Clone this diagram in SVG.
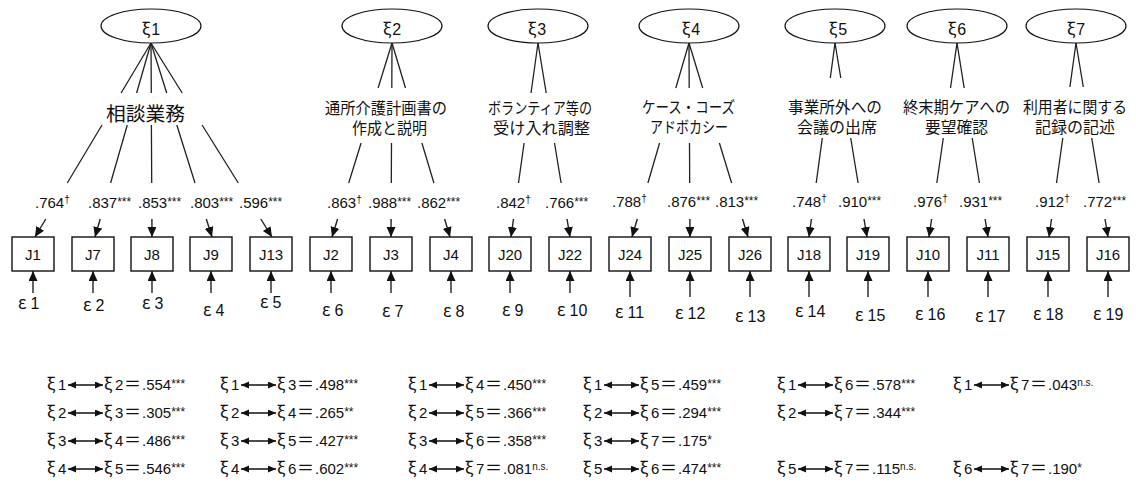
<svg xmlns="http://www.w3.org/2000/svg" width="1136" height="488" viewBox="0 0 1136 488">
<defs>
<marker id="ah" markerUnits="userSpaceOnUse" markerWidth="11" markerHeight="10" refX="10" refY="4.5" orient="auto"><path d="M0,0 L10,4.5 L0,9 z" fill="#111"/></marker>
<marker id="ah2" markerUnits="userSpaceOnUse" markerWidth="9" markerHeight="8" refX="8" refY="3.5" orient="auto-start-reverse"><path d="M0,0 L8,3.5 L0,7 z" fill="#111"/></marker>
<style>
.ln{stroke:#222;stroke-width:1.3;fill:none}
.ar{stroke:#222;stroke-width:1.4;fill:none;marker-end:url(#ah)}
.box{fill:#fff;stroke:#111;stroke-width:1.4}
.ell{fill:#fff;stroke:#111;stroke-width:1.2}
.jp{font-family:"Noto Sans CJK JP",sans-serif;font-size:15.5px;fill:#111}
.lat{font-family:"Liberation Sans",sans-serif;font-size:16px;fill:#111;text-anchor:middle}
.coef{font-family:"Liberation Sans",sans-serif;font-size:15px;fill:#111}
.sup{font-size:12px}
.sm{font-size:10px}
.bt{font-family:"Liberation Sans",sans-serif;font-size:15px;fill:#111;text-anchor:middle}
.eps{font-family:"Liberation Sans",sans-serif;font-size:16px;fill:#111}
.tb{font-family:"Liberation Sans",sans-serif;font-size:15px;fill:#111}
.g{font-family:"Noto Sans CJK JP",sans-serif;font-size:17px}
.dar{stroke:#111;stroke-width:1.4;fill:none;marker-start:url(#ah2);marker-end:url(#ah2)}
</style>
</defs>
<rect width="1136" height="488" fill="#fff"/>

<g id="connectors">
<path class="ln" d="M151,43 L121.1,93 M102,125 L67.3,183"/><path class="ar" d="M45.8,219 L35,237"/>
<path class="ln" d="M151,43 L136.6,93 M127.3,125 L110.6,183"/><path class="ar" d="M100.2,219 L95,237"/>
<path class="ln" d="M151,43 L151.3,93 M151.4,125 L151.7,183"/><path class="ar" d="M151.9,219 L152,237"/>
<path class="ln" d="M151,43 L166.7,93 M176.8,125 L195,183"/><path class="ar" d="M206.3,219 L212,237"/>
<path class="ln" d="M151,43 L182.2,93 M202.1,125 L238.3,183"/><path class="ar" d="M260.8,219 L272,237"/>
<path class="ln" d="M392,43 L378.1,88 M361.1,143 L348.7,183"/><path class="ar" d="M337.6,219 L332,237"/>
<path class="ln" d="M392,43 L391.8,88 M391.5,143 L391.3,183"/><path class="ar" d="M391.1,219 L391,237"/>
<path class="ln" d="M392,43 L405.5,88 M421.9,143 L433.9,183"/><path class="ar" d="M444.6,219 L450,237"/>
<path class="ln" d="M538,43 L531,93 M524.1,143 L518.5,183"/><path class="ar" d="M513.5,219 L511,237"/>
<path class="ln" d="M538,43 L546.2,93 M554.5,143 L561.1,183"/><path class="ar" d="M567,219 L570,237"/>
<path class="ln" d="M689,43 L675.8,88 M659.6,143 L647.9,183"/><path class="ar" d="M637.3,219 L632,237"/>
<path class="ln" d="M689,43 L689.2,88 M689.5,143 L689.7,183"/><path class="ar" d="M689.9,219 L690,237"/>
<path class="ln" d="M689,43 L702.7,88 M719.4,143 L731.6,183"/><path class="ar" d="M742.5,219 L748,237"/>
<path class="ln" d="M835,43 L830.3,78 M822.3,138 L816.2,183"/><path class="ar" d="M811.4,219 L809,237"/>
<path class="ln" d="M835,43 L840.8,78 M850.7,138 L858.1,183"/><path class="ar" d="M864,219 L867,237"/>
<path class="ln" d="M957,43 L950.5,88 M943.3,138 L936.8,183"/><path class="ar" d="M931.6,219 L929,237"/>
<path class="ln" d="M957,43 L964.2,88 M972.2,138 L979.4,183"/><path class="ar" d="M985.1,219 L988,237"/>
<path class="ln" d="M1076,43 L1069.9,87 M1062.8,138 L1056.5,183"/><path class="ar" d="M1051.5,219 L1049,237"/>
<path class="ln" d="M1076,43 L1083.3,87 M1091.7,138 L1099.1,183"/><path class="ar" d="M1105,219 L1108,237"/>
<path class="ar" d="M33,293 L33,271"/>
<path class="ar" d="M93,293 L93,271"/>
<path class="ar" d="M152,293 L152,271"/>
<path class="ar" d="M211,293 L211,271"/>
<path class="ar" d="M271,293 L271,271"/>
<path class="ar" d="M331,293 L331,271"/>
<path class="ar" d="M391,293 L391,271"/>
<path class="ar" d="M451,293 L451,271"/>
<path class="ar" d="M510,293 L510,271"/>
<path class="ar" d="M570,293 L570,271"/>
<path class="ar" d="M630,297 L630,271"/>
<path class="ar" d="M690,297 L690,271"/>
<path class="ar" d="M750,297 L750,271"/>
<path class="ar" d="M809,297 L809,271"/>
<path class="ar" d="M868,297 L868,271"/>
<path class="ar" d="M928,297 L928,271"/>
<path class="ar" d="M988,297 L988,271"/>
<path class="ar" d="M1048,297 L1048,271"/>
<path class="ar" d="M1108,297 L1108,271"/>
</g>

<g id="xi1"><ellipse class="ell" cx="151" cy="26" rx="50" ry="17"/><text class="lat" x="151" y="35"><tspan class="g">ξ</tspan><tspan dx="1">1</tspan></text><text class="jp" x="106" y="121" style="font-size:19.5px" textLength="79" lengthAdjust="spacingAndGlyphs">相談業務</text></g>
<g id="xi2"><ellipse class="ell" cx="392" cy="26" rx="50" ry="17"/><text class="lat" x="392" y="35"><tspan class="g">ξ</tspan><tspan dx="1">2</tspan></text><text class="jp" x="325" y="114" textLength="122" lengthAdjust="spacingAndGlyphs">通所介護計画書の</text><text class="jp" x="352" y="134" textLength="75" lengthAdjust="spacingAndGlyphs">作成と説明</text></g>
<g id="xi3"><ellipse class="ell" cx="538" cy="26" rx="50" ry="17"/><text class="lat" x="537" y="35"><tspan class="g">ξ</tspan><tspan dx="1">3</tspan></text><text class="jp" x="488" y="114" textLength="104" lengthAdjust="spacingAndGlyphs">ボランティア等の</text><text class="jp" x="493" y="134" textLength="97" lengthAdjust="spacingAndGlyphs">受け入れ調整</text></g>
<g id="xi4"><ellipse class="ell" cx="689" cy="26" rx="50" ry="17"/><text class="lat" x="691" y="35"><tspan class="g">ξ</tspan><tspan dx="1">4</tspan></text><text class="jp" x="642" y="113" textLength="93" lengthAdjust="spacingAndGlyphs">ケース・コーズ</text><text class="jp" x="650" y="133" textLength="78" lengthAdjust="spacingAndGlyphs">アドボカシー</text></g>
<g id="xi5"><ellipse class="ell" cx="835" cy="26" rx="50" ry="17"/><text class="lat" x="838" y="35"><tspan class="g">ξ</tspan><tspan dx="1">5</tspan></text><text class="jp" x="788" y="113" textLength="94" lengthAdjust="spacingAndGlyphs">事業所外への</text><text class="jp" x="797" y="133" textLength="80" lengthAdjust="spacingAndGlyphs">会議の出席</text></g>
<g id="xi6"><ellipse class="ell" cx="957" cy="26" rx="50" ry="17"/><text class="lat" x="957" y="35"><tspan class="g">ξ</tspan><tspan dx="1">6</tspan></text><text class="jp" x="903" y="113" textLength="107" lengthAdjust="spacingAndGlyphs">終末期ケアへの</text><text class="jp" x="925" y="133" textLength="63" lengthAdjust="spacingAndGlyphs">要望確認</text></g>
<g id="xi7"><ellipse class="ell" cx="1076" cy="26" rx="50" ry="17"/><text class="lat" x="1076" y="35"><tspan class="g">ξ</tspan><tspan dx="1">7</tspan></text><text class="jp" x="1023" y="113" textLength="104" lengthAdjust="spacingAndGlyphs">利用者に関する</text><text class="jp" x="1035" y="133" textLength="80" lengthAdjust="spacingAndGlyphs">記録の記述</text></g>

<g id="J1"><rect class="box" x="12" y="237" width="42" height="34"/><text class="bt" x="33" y="260">J1</text></g>
<g id="J7"><rect class="box" x="72" y="237" width="42" height="34"/><text class="bt" x="93" y="260">J7</text></g>
<g id="J8"><rect class="box" x="131" y="237" width="42" height="34"/><text class="bt" x="152" y="260">J8</text></g>
<g id="J9"><rect class="box" x="190" y="237" width="42" height="34"/><text class="bt" x="211" y="260">J9</text></g>
<g id="J13"><rect class="box" x="250" y="237" width="42" height="34"/><text class="bt" x="271" y="260">J13</text></g>
<g id="J2"><rect class="box" x="310" y="237" width="42" height="34"/><text class="bt" x="331" y="260">J2</text></g>
<g id="J3"><rect class="box" x="370" y="237" width="42" height="34"/><text class="bt" x="391" y="260">J3</text></g>
<g id="J4"><rect class="box" x="430" y="237" width="42" height="34"/><text class="bt" x="451" y="260">J4</text></g>
<g id="J20"><rect class="box" x="489" y="237" width="42" height="34"/><text class="bt" x="510" y="260">J20</text></g>
<g id="J22"><rect class="box" x="549" y="237" width="42" height="34"/><text class="bt" x="570" y="260">J22</text></g>
<g id="J24"><rect class="box" x="609" y="237" width="42" height="34"/><text class="bt" x="630" y="260">J24</text></g>
<g id="J25"><rect class="box" x="669" y="237" width="42" height="34"/><text class="bt" x="690" y="260">J25</text></g>
<g id="J26"><rect class="box" x="729" y="237" width="42" height="34"/><text class="bt" x="750" y="260">J26</text></g>
<g id="J18"><rect class="box" x="788" y="237" width="42" height="34"/><text class="bt" x="809" y="260">J18</text></g>
<g id="J19"><rect class="box" x="847" y="237" width="42" height="34"/><text class="bt" x="868" y="260">J19</text></g>
<g id="J10"><rect class="box" x="907" y="237" width="42" height="34"/><text class="bt" x="928" y="260">J10</text></g>
<g id="J11"><rect class="box" x="967" y="237" width="42" height="34"/><text class="bt" x="988" y="260">J11</text></g>
<g id="J15"><rect class="box" x="1027" y="237" width="42" height="34"/><text class="bt" x="1048" y="260">J15</text></g>
<g id="J16"><rect class="box" x="1087" y="237" width="42" height="34"/><text class="bt" x="1108" y="260">J16</text></g>

<g id="loadings">
<text class="coef" x="35" y="208">.764<tspan class="sm" dy="-5">†</tspan></text>
<text class="coef" x="88" y="208">.837<tspan class="sup" dy="-2">***</tspan></text>
<text class="coef" x="138" y="208">.853<tspan class="sup" dy="-2">***</tspan></text>
<text class="coef" x="190" y="208">.803<tspan class="sup" dy="-2">***</tspan></text>
<text class="coef" x="239" y="208">.596<tspan class="sup" dy="-2">***</tspan></text>
<text class="coef" x="327" y="208">.863<tspan class="sm" dy="-5">†</tspan></text>
<text class="coef" x="368" y="208">.988<tspan class="sup" dy="-2">***</tspan></text>
<text class="coef" x="417" y="208">.862<tspan class="sup" dy="-2">***</tspan></text>
<text class="coef" x="496" y="208">.842<tspan class="sm" dy="-5">†</tspan></text>
<text class="coef" x="545" y="208">.766<tspan class="sup" dy="-2">***</tspan></text>
<text class="coef" x="612" y="207">.788<tspan class="sm" dy="-5">†</tspan></text>
<text class="coef" x="667" y="207">.876<tspan class="sup" dy="-2">***</tspan></text>
<text class="coef" x="715" y="207">.813<tspan class="sup" dy="-2">***</tspan></text>
<text class="coef" x="792" y="207">.748<tspan class="sm" dy="-5">†</tspan></text>
<text class="coef" x="838" y="207">.910<tspan class="sup" dy="-2">***</tspan></text>
<text class="coef" x="913" y="207">.976<tspan class="sm" dy="-5">†</tspan></text>
<text class="coef" x="959" y="207">.931<tspan class="sup" dy="-2">***</tspan></text>
<text class="coef" x="1035" y="207">.912<tspan class="sm" dy="-5">†</tspan></text>
<text class="coef" x="1083" y="207">.772<tspan class="sup" dy="-2">***</tspan></text>
</g>

<g id="errors">
<text class="eps" x="18" y="309"><tspan class="g">ε</tspan><tspan dx="4">1</tspan></text>
<text class="eps" x="83" y="311"><tspan class="g">ε</tspan><tspan dx="4">2</tspan></text>
<text class="eps" x="142" y="309"><tspan class="g">ε</tspan><tspan dx="4">3</tspan></text>
<text class="eps" x="203" y="316"><tspan class="g">ε</tspan><tspan dx="4">4</tspan></text>
<text class="eps" x="260" y="308"><tspan class="g">ε</tspan><tspan dx="4">5</tspan></text>
<text class="eps" x="322" y="316"><tspan class="g">ε</tspan><tspan dx="4">6</tspan></text>
<text class="eps" x="382" y="317"><tspan class="g">ε</tspan><tspan dx="4">7</tspan></text>
<text class="eps" x="443" y="317"><tspan class="g">ε</tspan><tspan dx="4">8</tspan></text>
<text class="eps" x="502" y="316"><tspan class="g">ε</tspan><tspan dx="4">9</tspan></text>
<text class="eps" x="557" y="316"><tspan class="g">ε</tspan><tspan dx="4">10</tspan></text>
<text class="eps" x="615" y="318"><tspan class="g">ε</tspan><tspan dx="4">11</tspan></text>
<text class="eps" x="675" y="319"><tspan class="g">ε</tspan><tspan dx="4">12</tspan></text>
<text class="eps" x="735" y="322"><tspan class="g">ε</tspan><tspan dx="4">13</tspan></text>
<text class="eps" x="795" y="317"><tspan class="g">ε</tspan><tspan dx="4">14</tspan></text>
<text class="eps" x="855" y="321"><tspan class="g">ε</tspan><tspan dx="4">15</tspan></text>
<text class="eps" x="915" y="320"><tspan class="g">ε</tspan><tspan dx="4">16</tspan></text>
<text class="eps" x="975" y="322"><tspan class="g">ε</tspan><tspan dx="4">17</tspan></text>
<text class="eps" x="1033" y="320"><tspan class="g">ε</tspan><tspan dx="4">18</tspan></text>
<text class="eps" x="1093" y="320"><tspan class="g">ε</tspan><tspan dx="4">19</tspan></text>
</g>

<g id="correlations">
<g transform="translate(47,390)"><text class="tb"><tspan class="g" x="0">ξ</tspan><tspan x="11">1</tspan><tspan class="g" x="57">ξ</tspan><tspan x="68">2</tspan><tspan class="g" x="77">＝</tspan><tspan x="95">.554</tspan><tspan class="sup" dy="-2">***</tspan></text><path class="dar" d="M21,-5 L56,-5"/></g>
<g transform="translate(220,390)"><text class="tb"><tspan class="g" x="0">ξ</tspan><tspan x="11">1</tspan><tspan class="g" x="57">ξ</tspan><tspan x="68">3</tspan><tspan class="g" x="77">＝</tspan><tspan x="95">.498</tspan><tspan class="sup" dy="-2">***</tspan></text><path class="dar" d="M21,-5 L56,-5"/></g>
<g transform="translate(408,390)"><text class="tb"><tspan class="g" x="0">ξ</tspan><tspan x="11">1</tspan><tspan class="g" x="57">ξ</tspan><tspan x="68">4</tspan><tspan class="g" x="77">＝</tspan><tspan x="95">.450</tspan><tspan class="sup" dy="-2">***</tspan></text><path class="dar" d="M21,-5 L56,-5"/></g>
<g transform="translate(583,390)"><text class="tb"><tspan class="g" x="0">ξ</tspan><tspan x="11">1</tspan><tspan class="g" x="57">ξ</tspan><tspan x="68">5</tspan><tspan class="g" x="77">＝</tspan><tspan x="95">.459</tspan><tspan class="sup" dy="-2">***</tspan></text><path class="dar" d="M21,-5 L56,-5"/></g>
<g transform="translate(777,390)"><text class="tb"><tspan class="g" x="0">ξ</tspan><tspan x="11">1</tspan><tspan class="g" x="57">ξ</tspan><tspan x="68">6</tspan><tspan class="g" x="77">＝</tspan><tspan x="95">.578</tspan><tspan class="sup" dy="-2">***</tspan></text><path class="dar" d="M21,-5 L56,-5"/></g>
<g transform="translate(953,390)"><text class="tb"><tspan class="g" x="0">ξ</tspan><tspan x="11">1</tspan><tspan class="g" x="57">ξ</tspan><tspan x="68">7</tspan><tspan class="g" x="77">＝</tspan><tspan x="95">.043</tspan><tspan class="sm" dy="-4">n.s.</tspan></text><path class="dar" d="M21,-5 L56,-5"/></g>

<g transform="translate(47,418)"><text class="tb"><tspan class="g" x="0">ξ</tspan><tspan x="11">2</tspan><tspan class="g" x="57">ξ</tspan><tspan x="68">3</tspan><tspan class="g" x="77">＝</tspan><tspan x="95">.305</tspan><tspan class="sup" dy="-2">***</tspan></text><path class="dar" d="M21,-5 L56,-5"/></g>
<g transform="translate(220,418)"><text class="tb"><tspan class="g" x="0">ξ</tspan><tspan x="11">2</tspan><tspan class="g" x="57">ξ</tspan><tspan x="68">4</tspan><tspan class="g" x="77">＝</tspan><tspan x="95">.265</tspan><tspan class="sup" dy="-2">**</tspan></text><path class="dar" d="M21,-5 L56,-5"/></g>
<g transform="translate(408,418)"><text class="tb"><tspan class="g" x="0">ξ</tspan><tspan x="11">2</tspan><tspan class="g" x="57">ξ</tspan><tspan x="68">5</tspan><tspan class="g" x="77">＝</tspan><tspan x="95">.366</tspan><tspan class="sup" dy="-2">***</tspan></text><path class="dar" d="M21,-5 L56,-5"/></g>
<g transform="translate(583,418)"><text class="tb"><tspan class="g" x="0">ξ</tspan><tspan x="11">2</tspan><tspan class="g" x="57">ξ</tspan><tspan x="68">6</tspan><tspan class="g" x="77">＝</tspan><tspan x="95">.294</tspan><tspan class="sup" dy="-2">***</tspan></text><path class="dar" d="M21,-5 L56,-5"/></g>
<g transform="translate(777,418)"><text class="tb"><tspan class="g" x="0">ξ</tspan><tspan x="11">2</tspan><tspan class="g" x="57">ξ</tspan><tspan x="68">7</tspan><tspan class="g" x="77">＝</tspan><tspan x="95">.344</tspan><tspan class="sup" dy="-2">***</tspan></text><path class="dar" d="M21,-5 L56,-5"/></g>

<g transform="translate(47,446)"><text class="tb"><tspan class="g" x="0">ξ</tspan><tspan x="11">3</tspan><tspan class="g" x="57">ξ</tspan><tspan x="68">4</tspan><tspan class="g" x="77">＝</tspan><tspan x="95">.486</tspan><tspan class="sup" dy="-2">***</tspan></text><path class="dar" d="M21,-5 L56,-5"/></g>
<g transform="translate(220,446)"><text class="tb"><tspan class="g" x="0">ξ</tspan><tspan x="11">3</tspan><tspan class="g" x="57">ξ</tspan><tspan x="68">5</tspan><tspan class="g" x="77">＝</tspan><tspan x="95">.427</tspan><tspan class="sup" dy="-2">***</tspan></text><path class="dar" d="M21,-5 L56,-5"/></g>
<g transform="translate(408,446)"><text class="tb"><tspan class="g" x="0">ξ</tspan><tspan x="11">3</tspan><tspan class="g" x="57">ξ</tspan><tspan x="68">6</tspan><tspan class="g" x="77">＝</tspan><tspan x="95">.358</tspan><tspan class="sup" dy="-2">***</tspan></text><path class="dar" d="M21,-5 L56,-5"/></g>
<g transform="translate(583,446)"><text class="tb"><tspan class="g" x="0">ξ</tspan><tspan x="11">3</tspan><tspan class="g" x="57">ξ</tspan><tspan x="68">7</tspan><tspan class="g" x="77">＝</tspan><tspan x="95">.175</tspan><tspan class="sup" dy="-2">*</tspan></text><path class="dar" d="M21,-5 L56,-5"/></g>

<g transform="translate(47,474)"><text class="tb"><tspan class="g" x="0">ξ</tspan><tspan x="11">4</tspan><tspan class="g" x="57">ξ</tspan><tspan x="68">5</tspan><tspan class="g" x="77">＝</tspan><tspan x="95">.546</tspan><tspan class="sup" dy="-2">***</tspan></text><path class="dar" d="M21,-5 L56,-5"/></g>
<g transform="translate(220,474)"><text class="tb"><tspan class="g" x="0">ξ</tspan><tspan x="11">4</tspan><tspan class="g" x="57">ξ</tspan><tspan x="68">6</tspan><tspan class="g" x="77">＝</tspan><tspan x="95">.602</tspan><tspan class="sup" dy="-2">***</tspan></text><path class="dar" d="M21,-5 L56,-5"/></g>
<g transform="translate(408,474)"><text class="tb"><tspan class="g" x="0">ξ</tspan><tspan x="11">4</tspan><tspan class="g" x="57">ξ</tspan><tspan x="68">7</tspan><tspan class="g" x="77">＝</tspan><tspan x="95">.081</tspan><tspan class="sm" dy="-4">n.s.</tspan></text><path class="dar" d="M21,-5 L56,-5"/></g>
<g transform="translate(583,474)"><text class="tb"><tspan class="g" x="0">ξ</tspan><tspan x="11">5</tspan><tspan class="g" x="57">ξ</tspan><tspan x="68">6</tspan><tspan class="g" x="77">＝</tspan><tspan x="95">.474</tspan><tspan class="sup" dy="-2">***</tspan></text><path class="dar" d="M21,-5 L56,-5"/></g>
<g transform="translate(777,474)"><text class="tb"><tspan class="g" x="0">ξ</tspan><tspan x="11">5</tspan><tspan class="g" x="57">ξ</tspan><tspan x="68">7</tspan><tspan class="g" x="77">＝</tspan><tspan x="95">.115</tspan><tspan class="sm" dy="-4">n.s.</tspan></text><path class="dar" d="M21,-5 L56,-5"/></g>
<g transform="translate(953,474)"><text class="tb"><tspan class="g" x="0">ξ</tspan><tspan x="11">6</tspan><tspan class="g" x="57">ξ</tspan><tspan x="68">7</tspan><tspan class="g" x="77">＝</tspan><tspan x="95">.190</tspan><tspan class="sup" dy="-2">*</tspan></text><path class="dar" d="M21,-5 L56,-5"/></g>
</g>
</svg>
